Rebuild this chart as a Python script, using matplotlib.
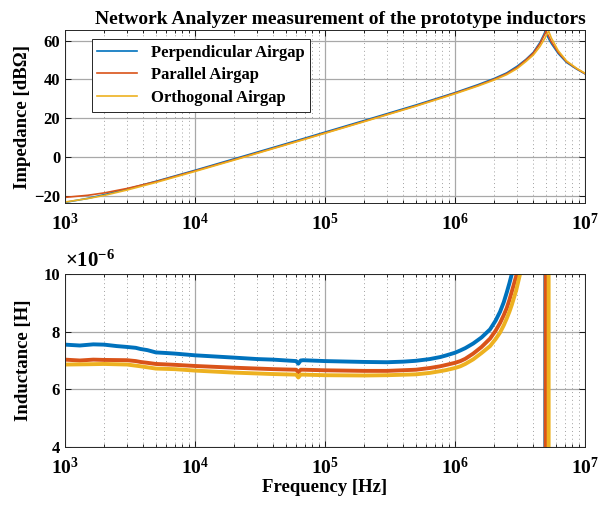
import numpy as np
import matplotlib.pyplot as plt
from matplotlib.ticker import LogLocator, FixedLocator, NullFormatter, FuncFormatter

plt.rcParams['font.family'] = ['Liberation Serif', 'DejaVu Serif']
plt.rcParams['font.weight'] = 'bold'
plt.rcParams['mathtext.fontset'] = 'custom'
plt.rcParams['mathtext.rm'] = 'Liberation Serif:bold'
plt.rcParams['mathtext.bf'] = 'Liberation Serif:bold'
plt.rcParams['mathtext.it'] = 'Liberation Serif:bold:italic'

# Impedance magnitude [dBOhm]
f_z = [1e3, 1.5e3, 2e3, 3e3, 5e3, 1e4, 2e4, 5e4, 1e5, 2e5, 5e5, 1e6, 1.5e6, 2e6,
       2.5e6, 3e6, 3.5e6, 4e6, 4.5e6, 4.8e6, 4.95e6, 5.0e6, 5.25e6, 5.5e6, 6.2e6,
       7.2e6, 8.6e6, 1e7]
z_perp = [-23.5, -21.4, -19.5, -16.6, -12.6, -6.9, -1.0, 6.8, 12.8, 18.8, 26.8, 33.2, 37.3, 40.5,
          43.4, 46.8, 50.3, 54.0, 59.1, 63.0, 65.0, 64.0, 61.0, 58.6, 53.5,
          48.8, 45.4, 42.9]
z_para = [-20.9, -19.8, -18.6, -16.3, -12.8, -7.2, -1.4, 6.4, 12.4, 18.4, 26.4, 32.9, 36.9, 40.1,
          43.0, 46.2, 50.0, 53.6, 58.5, 62.3, 64.2, 65.0, 62.3, 59.5, 54.1,
          49.2, 45.6, 43.0]
z_orth = [-23.3, -21.5, -19.9, -17.1, -13.2, -7.5, -1.65, 6.2, 12.2, 18.2, 26.2, 32.6, 36.6, 39.7,
          42.5, 45.6, 49.2, 52.6, 57.0, 60.2, 61.6, 62.5, 65.0, 61.5, 55.0,
          49.6, 45.8, 43.2]

# Inductance [uH]
f_perp = [1e3, 1.3e3, 1.65e3, 2e3, 2.5e3, 3e3, 3.5e3, 3.8e3, 4.3e3, 5e3, 6e3, 7e3, 1e4, 2e4,
          3e4, 4e4, 6.0e4, 6.23e4, 6.5e4, 6.8e4, 1e5, 2e5, 3e5, 4e5, 5e5, 6.4e5, 7.7e5, 8.6e5,
          1e6, 1.1e6, 1.2e6, 1.38e6, 1.6e6, 1.86e6, 2.05e6, 2.22e6, 2.37e6, 2.5e6, 2.62e6,
          2.73e6, 2.85e6, 3e6, 3.5e6, 4e6, 4.5e6, 4.8e6,
          4.94e6, 4.96e6, 5.5e6, 7e6, 1e7]
l_perp = [7.55, 7.52, 7.56, 7.55, 7.50, 7.47, 7.44, 7.40, 7.36, 7.28, 7.26, 7.24, 7.18, 7.10,
          7.05, 7.03, 6.98, 6.89, 7.00, 7.01, 6.98, 6.95, 6.94, 6.96, 6.99, 7.05, 7.12, 7.18,
          7.27, 7.35, 7.43, 7.59, 7.80, 8.08, 8.38, 8.69, 9.02, 9.36, 9.68,
          9.99, 10.4, 11.0, 14.0, 20.0, 40.0, 90.0,
          300.0, -300.0, -40.0, -8.0, -3.0]

f_para = [1e3, 1.3e3, 1.65e3, 2e3, 3e3, 3.5e3, 3.8e3, 4.3e3, 5e3, 7e3, 1e4, 2e4,
          4e4, 6.0e4, 6.23e4, 6.5e4, 6.8e4, 1e5, 2e5, 3e5, 5e5, 6.4e5, 7.7e5, 8.6e5,
          1e6, 1.1e6, 1.2e6, 1.38e6, 1.6e6, 1.86e6, 2.05e6, 2.22e6, 2.37e6, 2.5e6, 2.62e6,
          2.73e6, 2.86e6, 2.98e6, 3.2e6, 3.5e6, 4e6, 4.5e6, 4.8e6,
          4.97e6, 4.99e6, 5.5e6, 7e6, 1e7]
l_para = [7.03, 7.00, 7.03, 7.02, 7.01, 6.98, 6.95, 6.92, 6.88, 6.85, 6.81, 6.75,
          6.70, 6.68, 6.59, 6.68, 6.68, 6.66, 6.64, 6.64, 6.68, 6.74, 6.80, 6.85,
          6.92, 6.98, 7.06, 7.24, 7.47, 7.76, 8.03, 8.30, 8.57, 8.82, 9.10,
          9.38, 9.70, 9.99, 10.8, 12.5, 17.0, 32.0, 70.0,
          300.0, -300.0, -40.0, -8.0, -3.0]

f_orth = [1e3, 1.5e3, 2e3, 3e3, 3.8e3, 5e3, 7e3, 1e4, 2e4, 4e4, 6.0e4, 6.23e4, 6.5e4, 6.8e4,
          1e5, 2e5, 3e5, 5e5, 6.4e5, 7.7e5, 8.6e5, 1e6, 1.1e6, 1.2e6, 1.38e6, 1.6e6, 1.86e6,
          2.05e6, 2.22e6, 2.37e6, 2.5e6, 2.62e6, 2.73e6, 2.95e6, 3.16e6, 3.4e6,
          3.7e6, 4.2e6, 4.7e6, 5.0e6, 5.2e6, 5.24e6, 5.26e6, 6e6, 1e7]
l_orth = [6.86, 6.87, 6.88, 6.86, 6.80, 6.72, 6.70, 6.65, 6.58, 6.53, 6.51, 6.41, 6.51, 6.51,
          6.49, 6.48, 6.49, 6.52, 6.57, 6.63, 6.67, 6.74, 6.80, 6.88, 7.04, 7.26, 7.50,
          7.74, 7.97, 8.22, 8.46, 8.69, 8.92, 9.42, 9.99, 10.9,
          12.5, 17.0, 30.0, 60.0, 200.0, 400.0, -400.0, -30.0, -3.0]

names = ['Perpendicular Airgap', 'Parallel Airgap', 'Orthogonal Airgap']
colors = ['#0072BD', '#D95319', '#EDB120']

fig = plt.figure(figsize=(5.98, 5.08), dpi=100)
ax1 = fig.add_axes([0.1087, 0.6004, 0.8696, 0.3396])
ax2 = fig.add_axes([0.1087, 0.1201, 0.8696, 0.3405])

for z, c, n in zip([z_perp, z_para, z_orth], colors, names):
    ax1.plot(f_z, z, color=c, linewidth=1.2, label=n)

for f, l, c in zip([f_perp, f_para, f_orth], [l_perp, l_para, l_orth], colors):
    ax2.plot(f, l, color=c, linewidth=2.8)


def dec_label(v, pos):
    return r'$\mathbf{10^{%d}}$' % int(round(np.log10(v)))


for ax in (ax1, ax2):
    ax.set_xscale('log')
    ax.set_xlim(1e3, 1e7)
    ax.xaxis.set_major_locator(LogLocator(base=10, numticks=10))
    ax.xaxis.set_minor_locator(LogLocator(base=10, subs=np.arange(2, 10), numticks=20))
    ax.xaxis.set_major_formatter(FuncFormatter(dec_label))
    ax.xaxis.set_minor_formatter(NullFormatter())
    ax.grid(True, which='major', color='#a8a8a8', linewidth=0.9, linestyle='-')
    ax.grid(True, which='minor', axis='x', color='#a0a0a0', linewidth=0.7, linestyle=(0, (1, 3)))
    ax.set_axisbelow(True)
    ax.tick_params(which='both', direction='in', top=True, right=True, width=0.6)
    ax.tick_params(which='major', length=4)
    ax.tick_params(which='minor', length=2)
    ax.tick_params(axis='x', labelsize=14, pad=7)
    ax.tick_params(axis='y', labelsize=12)
    for s in ax.spines.values():
        s.set_linewidth(0.7)
        s.set_color('#262626')

ax1.set_ylim(-23.8, 65.3)
ax1.yaxis.set_major_locator(FixedLocator([-20, 0, 20, 40, 60]))
ax1.set_ylabel('Impedance [dB\u03a9]', fontsize=13.5, fontweight='bold', labelpad=2)
ax1.set_title('Network Analyzer measurement of the prototype inductors',
              fontsize=14, fontweight='bold', pad=5, x=0.53)
leg = ax1.legend(loc='upper left', bbox_to_anchor=(0.035, 1.0), fontsize=12,
                 fancybox=False, framealpha=1, edgecolor='#262626',
                 handlelength=2.4, borderpad=0.35, labelspacing=0.4)
leg.get_frame().set_linewidth(0.7)

ax2.set_ylim(4, 10)
ax2.yaxis.set_major_locator(FixedLocator([4, 6, 8, 10]))
ax2.set_ylabel('Inductance [H]', fontsize=13.5, fontweight='bold', labelpad=8)
ax2.set_xlabel('Frequency [Hz]', fontsize=13.5, fontweight='bold', labelpad=1)
ax2.text(0.0, 1.01, r'$\times\mathbf{10^{-6}}$', transform=ax2.transAxes,
         fontsize=15, ha='left', va='bottom')

fig.savefig('out.png', dpi=100)
